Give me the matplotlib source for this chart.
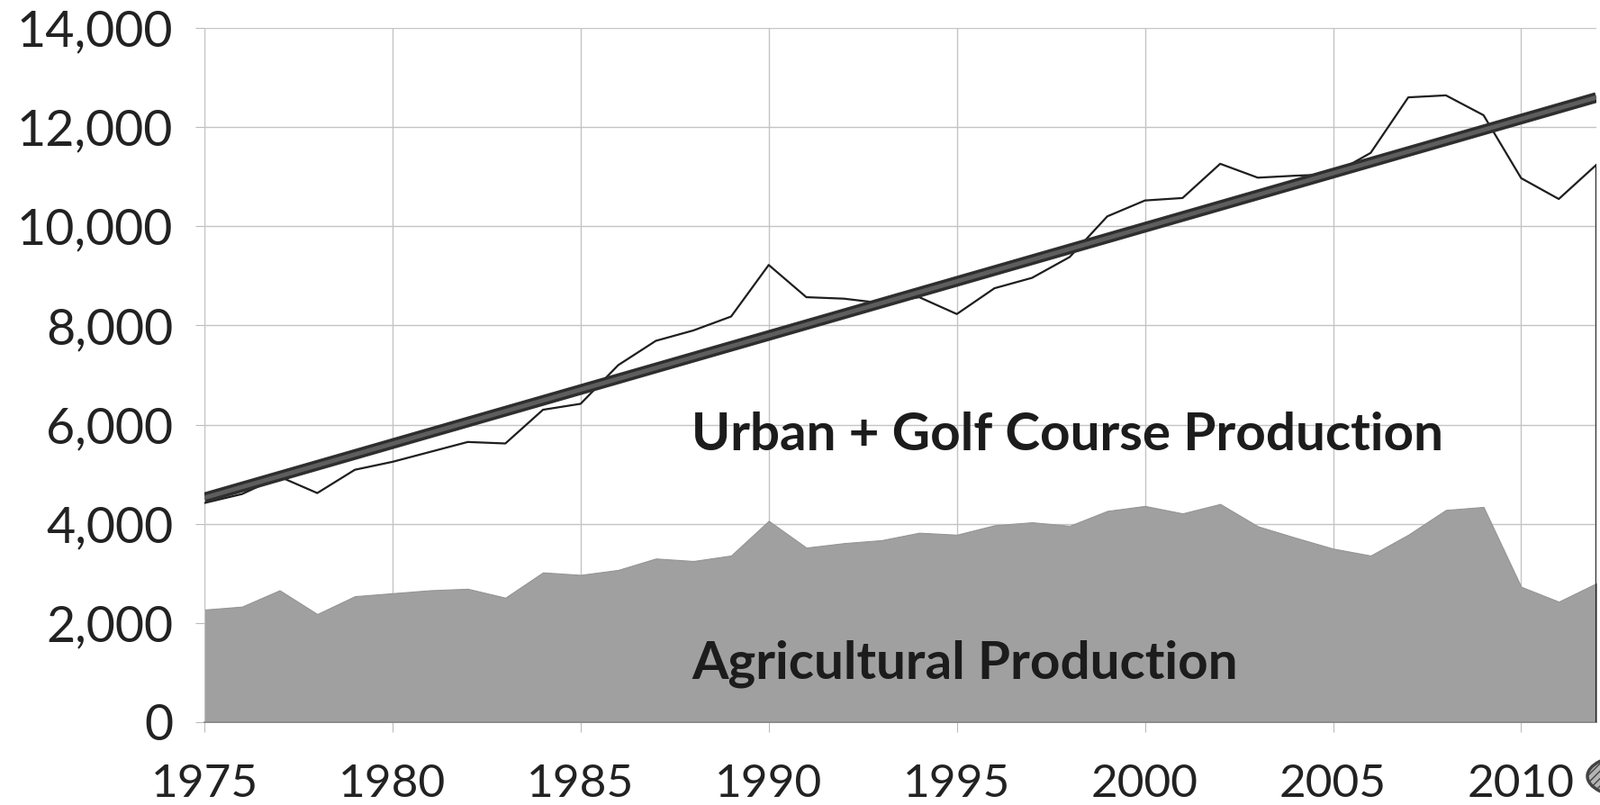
import numpy as np
import matplotlib

matplotlib.use("Agg")
import matplotlib.pyplot as plt
from matplotlib.patches import Circle

plt.rcParams["font.family"] = ["Lato", "DejaVu Sans"]

# values (acre-feet per year, approx.)
years = list(range(1975, 2013))
total_production = [
    4420, 4600, 4950, 4620, 5090, 5250, 5450, 5650, 5620, 6300,
    6420, 7200, 7690, 7900, 8180, 9220, 8570, 8540, 8450, 8570,
    8230, 8750, 8960, 9380, 10200, 10520, 10570, 11260, 10980, 11020,
    11050, 11480, 12600, 12640, 12240, 10970, 10550, 11240,
]
agricultural = [
    2270, 2330, 2660, 2180, 2540, 2600, 2660, 2690, 2510, 3020,
    2970, 3070, 3300, 3250, 3360, 4060, 3520, 3610, 3670, 3820,
    3780, 3970, 4030, 3960, 4260, 4360, 4210, 4400, 3950, 3720,
    3500, 3360, 3780, 4280, 4340, 2730, 2430, 2800,
]
x_ticks = [1975, 1980, 1985, 1990, 1995, 2000, 2005, 2010]
y_ticks = [0, 2000, 4000, 6000, 8000, 10000, 12000, 14000]

W, H = 1777, 894
fig = plt.figure(figsize=(W / 100, H / 100), dpi=100)
ax = fig.add_axes([227 / W, 1 - 802 / H, (1773 - 227) / W, (802 - 31) / H])

yr = np.array(years)
tot = np.array(total_production)

ax.fill_between(yr, 0, agricultural, color="#a0a0a0", edgecolor="#949494", linewidth=0.8, zorder=2)
ax.plot(yr, tot, color="#1e1e1e", linewidth=1.6, zorder=3)
ax.vlines(yr[-1], 0, tot[-1], color="#1e1e1e", linewidth=1.6, zorder=3)

# linear trend of the combined production
slope, icept = np.polyfit(yr, tot, 1)
trend = slope * yr + icept
ax.plot(yr, trend, color="#2e2e2e", linewidth=8.5, solid_capstyle="butt", zorder=4)
ax.plot(yr, trend, color="#5e5e5e", linewidth=3.5, solid_capstyle="butt", zorder=5)

ax.set_xlim(1975, 2012)
ax.set_ylim(0, 14000)
ax.set_xticks(x_ticks)
ax.set_yticks(y_ticks)
ax.set_yticklabels([f"{v:,}" for v in y_ticks])
ax.grid(True, color="#c4c4c4", linewidth=1.0, zorder=0)
ax.set_axisbelow(True)

for side in ("top", "right"):
    ax.spines[side].set_visible(False)
ax.spines["left"].set_color("#c4c4c4")
ax.spines["bottom"].set_color("#8a8a8a")
ax.spines["bottom"].set_linewidth(1.2)

ax.tick_params(axis="y", length=7, color="#bbbbbb", pad=18, labelsize=40, labelcolor="#222222")
ax.tick_params(axis="x", length=8, color="#bbbbbb", pad=25, labelsize=37, labelcolor="#222222")

ax.text(1987.95, 5780, "Urban + Golf Course Production", fontsize=42, fontweight="bold",
        color="#1c1c1c", ha="left", va="center", zorder=6)
ax.text(1987.95, 1180, "Agricultural Production", fontsize=42, fontweight="bold",
        color="#1c1c1c", ha="left", va="center", zorder=6)

# partial seal cut off at the bottom-right corner
seal = Circle((1809 / W, 1 - 862 / H), 46 / W, transform=fig.transFigure,
              facecolor="#b5b5b5", edgecolor="#444444", linewidth=2.5, hatch="////")
fig.patches.append(seal)

fig.savefig("out.png", dpi=100)
